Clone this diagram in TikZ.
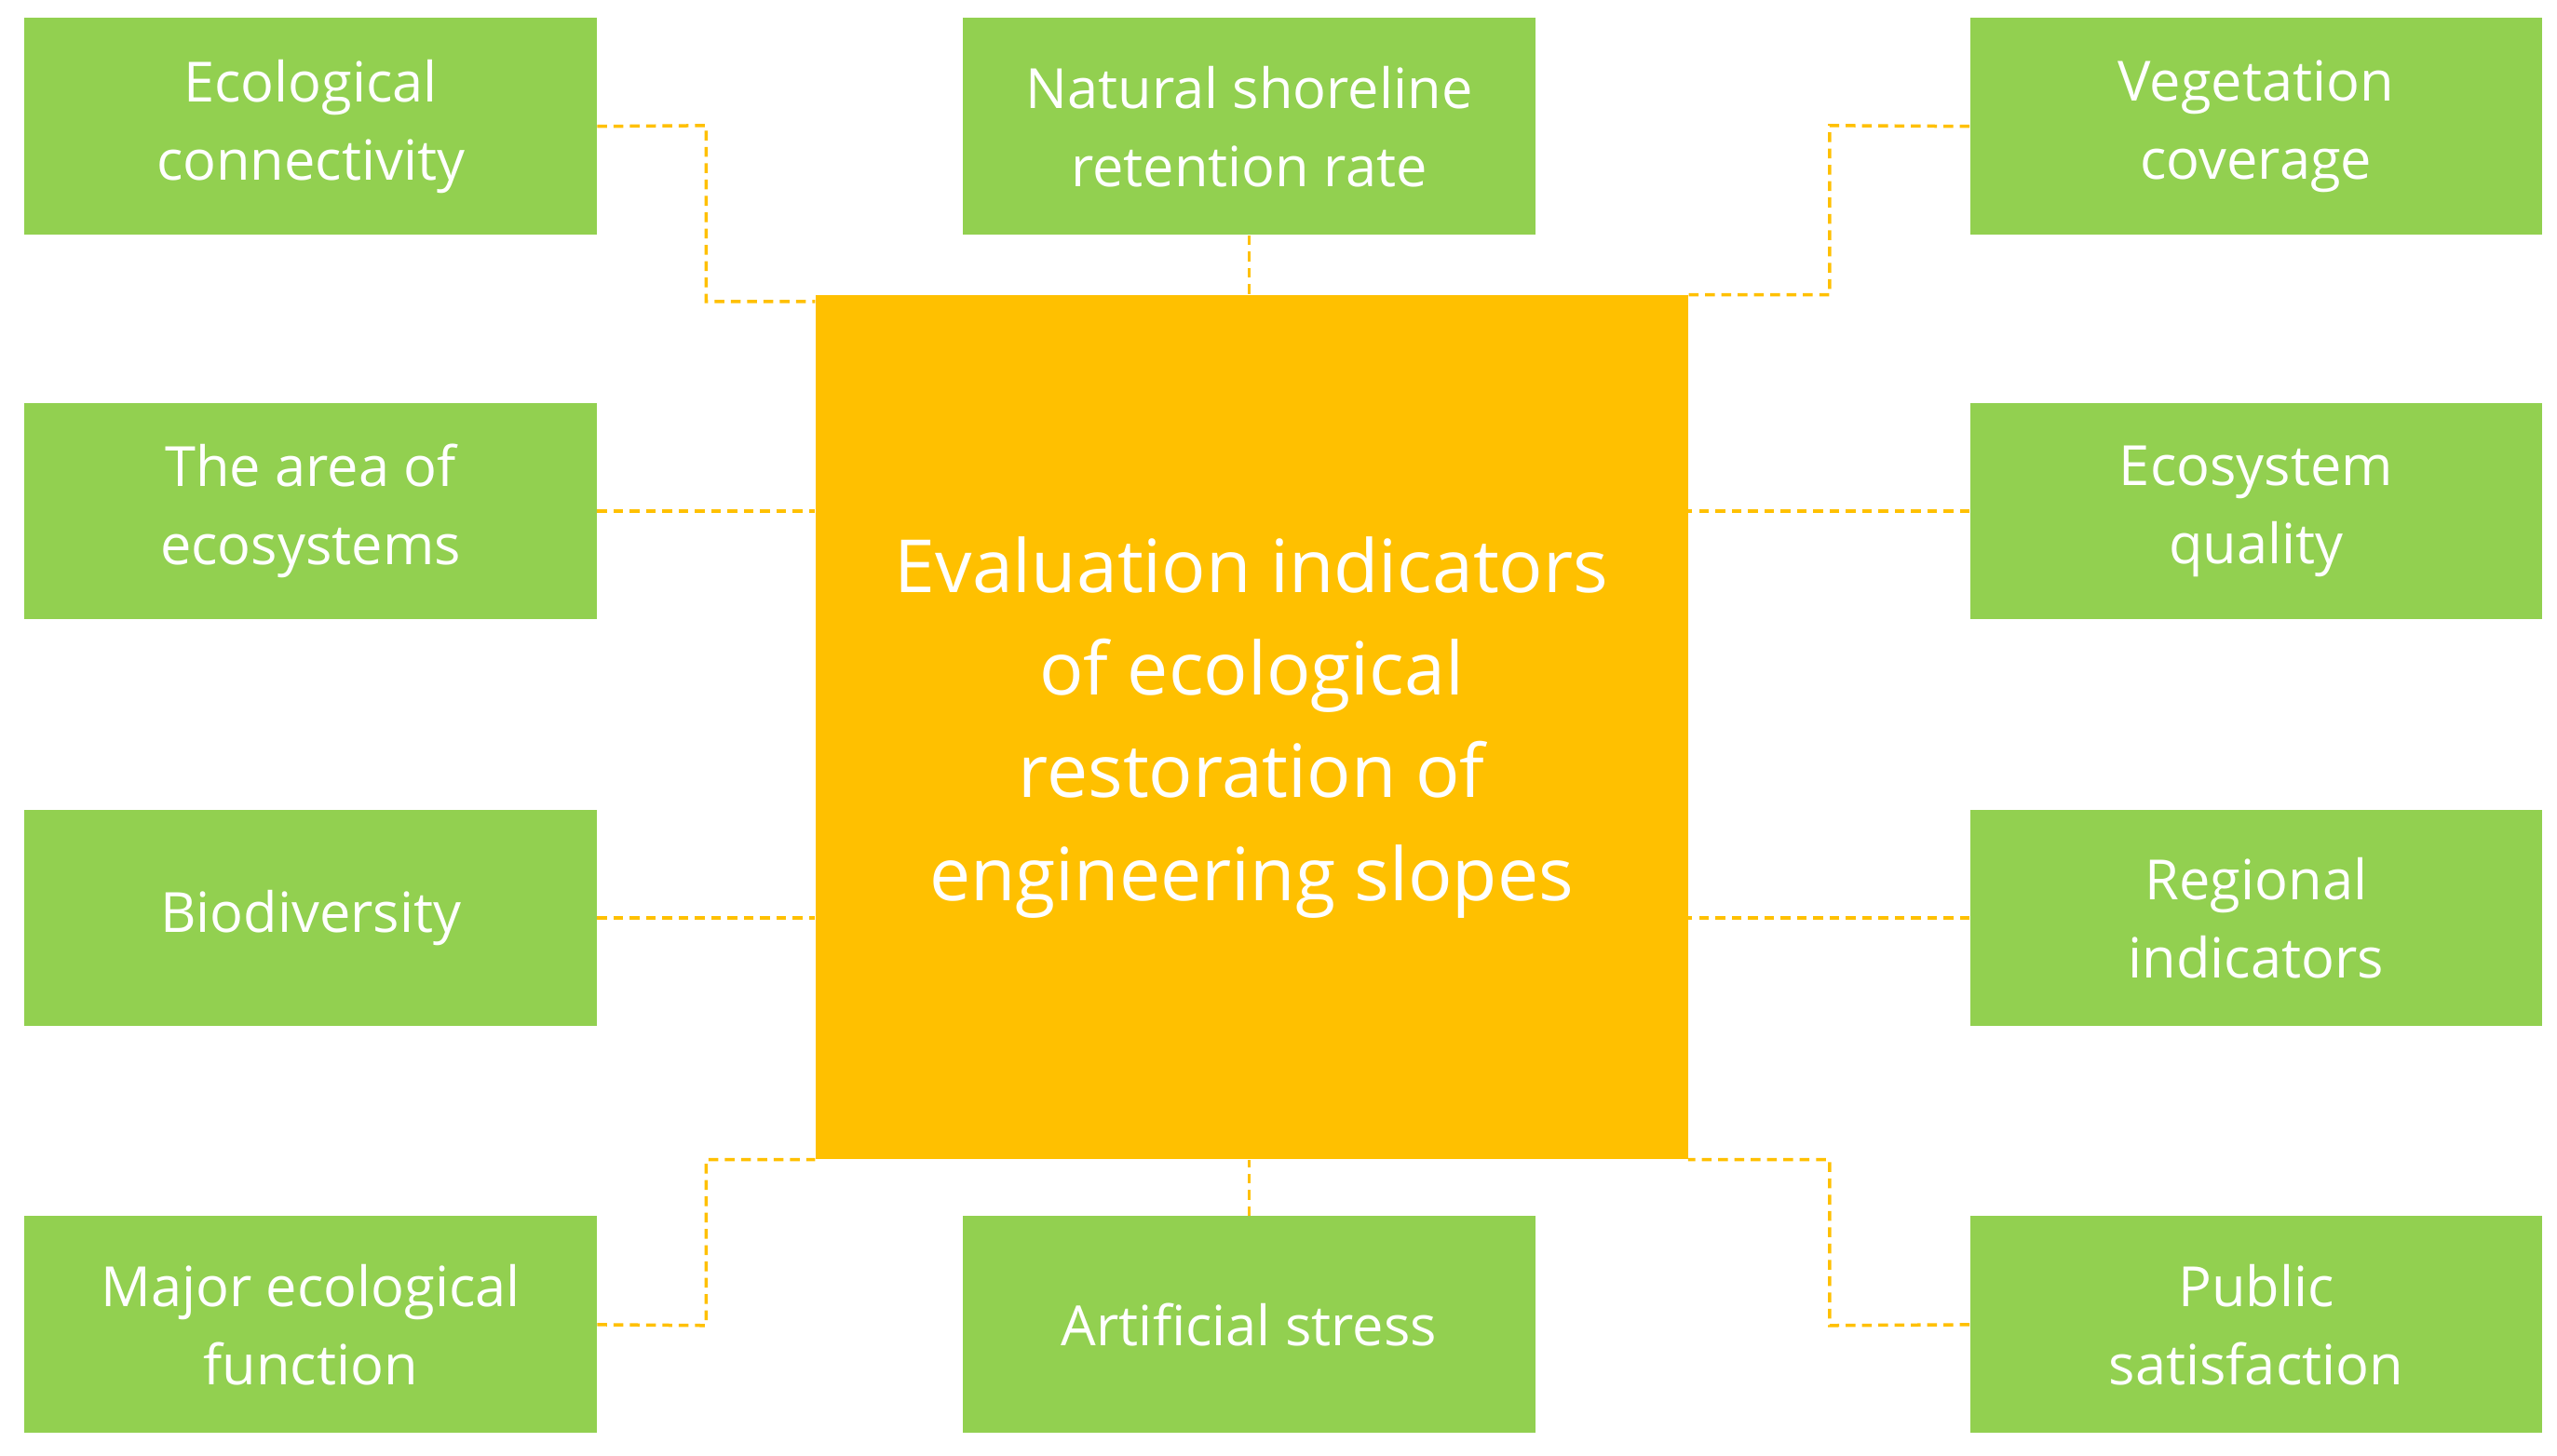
\documentclass[tikz,border=0pt]{standalone}
\usepackage{fontspec}
\setmainfont{Open Sans}
\begin{document}
\begin{tikzpicture}[x=1pt,y=-1pt,
  gbox/.style={fill=green!50!black!0, fill={rgb,255:red,146;green,208;blue,80}, text=white, minimum width=351pt, minimum height=133pt, align=center, font=\fontsize{34}{48}\selectfont, inner sep=0pt},
  cbox/.style={fill={rgb,255:red,255;green,192;blue,0}, text=white, minimum width=535pt, minimum height=530pt, align=center, font=\fontsize{45}{63}\selectfont, inner sep=0pt},
  conn/.style={draw={rgb,255:red,255;green,192;blue,0}, dashed, dash pattern=on 6pt off 4pt, line width=2pt}]
\fill[white] (0,0) rectangle (1568,893);
\useasboundingbox (0,0) rectangle (1568,893);
\node[cbox] (c) at (767.5,446) {Evaluation indicators\\of ecological\\restoration of\\engineering slopes};
\node[gbox] (l1) at (190.5,77.5) {Ecological\\connectivity};
\node[gbox] (l2) at (190.5,313.5) {The area of\\ecosystems};
\node[gbox] (l3) at (190.5,563) {Biodiversity};
\node[gbox] (l4) at (190.5,812.5) {Major ecological\\function};
\node[gbox] (m1) at (766,77.5) {Natural shoreline\\retention rate};
\node[gbox] (m2) at (766,812.5) {Artificial stress};
\node[gbox] (r1) at (1383.5,77.5) {Vegetation\\coverage};
\node[gbox] (r2) at (1383.5,313.5) {Ecosystem\\quality};
\node[gbox] (r3) at (1383.5,563) {Regional\\indicators};
\node[gbox] (r4) at (1383.5,812.5) {Public\\satisfaction};
\draw[conn] (l1.east) -- (433,77) |- (c.west |- 0,185);
\draw[conn] (l2.east) -- (c.west |- l2.east);
\draw[conn] (l3.east) -- (c.west |- l3.east);
\draw[conn] (l4.east) -- (433,813) |- (c.south west);
\draw[conn] (m1.south) -- (c.north -| m1.south);
\draw[conn] (m2.north) -- (c.south -| m2.north);
\draw[conn] (r1.west) -- (1122,77) |- (c.north east);
\draw[conn] (r2.west) -- (c.east |- r2.west);
\draw[conn] (r3.west) -- (c.east |- r3.west);
\draw[conn] (r4.west) -- (1122,813) |- (c.south east);
\end{tikzpicture}
\end{document}
